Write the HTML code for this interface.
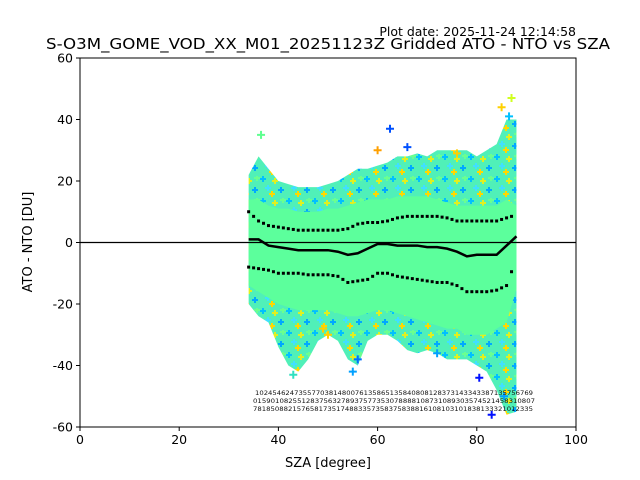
<!DOCTYPE html>
<html><head><meta charset="utf-8"><style>
html,body{margin:0;padding:0;background:#fff;}
svg{display:block;font-family:"DejaVu Sans","Liberation Sans",sans-serif;}
</style></head><body>
<svg id="chart" width="640" height="480" viewBox="0 0 640 480" xmlns="http://www.w3.org/2000/svg">
<defs>
<pattern id="speck" width="26" height="22" patternUnits="userSpaceOnUse">
<rect width="26" height="22" fill="#50f0b8"/>
<path d="M3 0v6M0 3h6" stroke="#00c0ff" stroke-width="2"/>
<path d="M15 2v6M12 5h6" stroke="#e0f020" stroke-width="2"/>
<path d="M8 9v6M5 12h6" stroke="#40e0ff" stroke-width="2"/>
<path d="M21 11v6M18 14h6" stroke="#00a8ff" stroke-width="2"/>
<path d="M12 15v6M9 18h6" stroke="#ffd800" stroke-width="2"/>
<path d="M23 0v5M20 2h6" stroke="#6aff90" stroke-width="2"/>
</pattern>
</defs>
<text x="576" y="36" font-size="12.5" text-anchor="end">Plot date: 2025-11-24 12:14:58</text>
<text x="328" y="49" font-size="15" text-anchor="middle" textLength="564" lengthAdjust="spacingAndGlyphs">S-O3M_GOME_VOD_XX_M01_20251123Z Gridded ATO - NTO vs SZA</text>
<g id="plot"></g>
<rect x="80" y="58" width="496" height="369" fill="none" stroke="#000" stroke-width="1"/>
<g id="axes"></g>
<text x="328" y="467" font-size="13" text-anchor="middle">SZA [degree]</text>
<text transform="translate(32,242) rotate(-90)" font-size="13" text-anchor="middle">ATO - NTO [DU]</text>
<g font-size="6.5" fill="#111">
<text x="255" y="395" textLength="278" lengthAdjust="spacingAndGlyphs">1024546247355770381480076135865135840808128373143343387135756769</text>
<text x="253" y="403" textLength="282" lengthAdjust="spacingAndGlyphs">0159010825512837563278937577353078888108731089303574521458310807</text>
<text x="253" y="411" textLength="280" lengthAdjust="spacingAndGlyphs">7818508821576581735174883357358375838816108103101838133321012335</text>
</g>
</svg>
<script>
const sza      = [34, 36, 38, 40, 42, 44, 46, 48, 50, 52, 54, 56, 58, 60, 62, 64, 66, 68, 70, 72, 74, 76, 78, 80, 82, 84, 86, 88];
const meanDiff = [1, 1, -1, -1.5, -2, -2.5, -2.5, -2.5, -2.5, -3, -4, -3.5, -2, -0.5, -0.5, -1, -1, -1, -1.5, -1.5, -2, -3, -4.5, -4, -4, -4, -1, 2];
const upperStd = [10, 7, 5.5, 5, 4.5, 4, 4, 4, 4, 4, 4.5, 6, 6.5, 6.5, 7, 8, 8.5, 8.5, 8.5, 8.5, 8, 7, 7, 7, 7, 7, 8, 9];
const lowerStd = [-8, -8.5, -9, -10, -10, -10, -10.5, -10.5, -10.5, -11, -13, -12.5, -12, -10, -10, -11, -11.5, -12, -12.5, -13, -13, -14, -16, -16, -16, -15.5, -14, -5];
const cloudTop = [22, 28, 24, 20, 19, 18, 18, 18, 19, 20, 22, 24, 24, 25, 26, 28, 28, 29, 28, 30, 30, 30, 30, 28, 30, 32, 40, 40];
const cloudBot = [-20, -24, -26, -34, -40, -42, -38, -32, -30, -32, -38, -40, -32, -30, -30, -32, -35, -36, -35, -36, -38, -38, -38, -40, -42, -48, -56, -55];
const coreTop  = [14, 14, 12, 11, 11, 10, 10, 10, 11, 11, 12, 13, 14, 14, 14, 15, 15, 15, 15, 14, 13, 12, 12, 12, 12, 12, 14, 12];
const coreBot  = [-14, -16, -18, -20, -21, -22, -22, -22, -22, -23, -24, -24, -23, -22, -22, -23, -24, -25, -26, -27, -28, -28, -30, -30, -30, -28, -26, -15];
const xTicks = [0, 20, 40, 60, 80, 100];
const yTicks = [-60, -40, -20, 0, 20, 40, 60];
const outlierSza = [36.5, 43, 62.5, 66, 76, 80.5, 83, 85, 85.5, 87, 72, 55, 56, 50, 49, 60, 86.5];
const outlierVal = [35, -43, 37, 31, 29, -44, -56, 44, -50, 47, -36, -42, -38, -30, -28, 30, 41];
const outlierCol = ["#5fff90", "#30e0c0", "#0050ff", "#0050ff", "#ffd000", "#0010ff", "#0010ff", "#ffd000", "#00a0ff", "#d0ff20", "#00a0ff", "#00a0ff", "#0070ff", "#ffd000", "#ffd000", "#ffa000", "#00c0ff"];

const NS = "http://www.w3.org/2000/svg";
const X0 = 80, X1 = 576, Y0 = 427, Y1 = 58;
function xs(v){ return X0 + (v - 0) / 100 * (X1 - X0); }
function ys(v){ return Y0 - (v + 60) / 120 * (Y0 - Y1); }
function mk(tag, attrs, parent){ const e = document.createElementNS(NS, tag); for (const k in attrs) e.setAttribute(k, attrs[k]); parent.appendChild(e); return e; }

const plot = document.getElementById("plot");
const axes = document.getElementById("axes");

function band(top, bot, fill, name){
  let pts = [];
  for (let i = 0; i < sza.length; i++) pts.push(xs(sza[i]) + "," + ys(top[i]));
  for (let i = sza.length - 1; i >= 0; i--) pts.push(xs(sza[i]) + "," + ys(bot[i]));
  const p = mk("polygon", {points: pts.join(" "), fill: fill}, plot);
  
  
}
band(cloudTop, cloudBot, "url(#speck)", "scatter-cloud");
band(coreTop, coreBot, "#5cff9c", "scatter-core");

for (let i = 0; i < outlierSza.length; i++){
  const cx = xs(outlierSza[i]), cy = ys(outlierVal[i]);
  const c = mk("path", {d: "M" + (cx-4) + " " + cy + "h8M" + cx + " " + (cy-4) + "v8", stroke: outlierCol[i], "stroke-width": 2}, plot);
  
  
}

const zl = mk("line", {x1: X0, x2: X1, y1: ys(0), y2: ys(0), stroke: "#000", "stroke-width": 1.3}, plot);



function dotted(arr, name){
  const g = mk("g", {}, plot);
  
  
  for (let i = 0; i < sza.length - 1; i++){
    for (let k = 0; k < 2; k++){
      const t = k / 2;
      const v = arr[i] + (arr[i+1] - arr[i]) * t;
      const s = sza[i] + (sza[i+1] - sza[i]) * t;
      const d = mk("rect", {x: xs(s) - 1.5, y: ys(v) - 1.5, width: 3, height: 3, fill: "#000"}, g);
      
      
    }
  }
}
dotted(upperStd, "upper-std-line");
dotted(lowerStd, "lower-std-line");

let mp = [];
for (let i = 0; i < sza.length; i++) mp.push(xs(sza[i]) + "," + ys(meanDiff[i]));
const ml = mk("polyline", {points: mp.join(" "), fill: "none", stroke: "#000", "stroke-width": 2.5}, plot);



for (const t of xTicks){
  const l = mk("line", {x1: xs(t), x2: xs(t), y1: Y0, y2: Y0 + 4, stroke: "#000"}, axes);
  
  
  const tx = mk("text", {x: xs(t), y: Y0 + 17, "font-size": 12.5, "text-anchor": "middle"}, axes);
  tx.textContent = t;
  
  
}
for (const t of yTicks){
  const l = mk("line", {x1: X0 - 4, x2: X0, y1: ys(t), y2: ys(t), stroke: "#000"}, axes);
  
  
  const tx = mk("text", {x: X0 - 7, y: ys(t) + 4.5, "font-size": 12.5, "text-anchor": "end"}, axes);
  tx.textContent = t;
  
  
}
</script>
</body></html>
